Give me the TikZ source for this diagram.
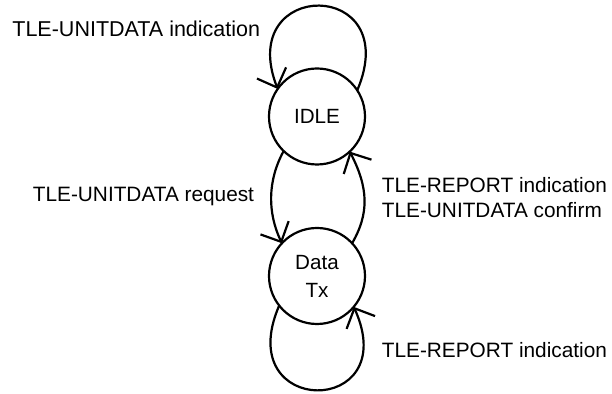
\documentclass[tikz,border=0pt]{standalone}
\usepackage{fontspec}
\setmainfont{Liberation Sans}
\usetikzlibrary{positioning, arrows.meta}

\begin{document}
\begin{tikzpicture}[
    x=0.5pt, y=-0.5pt,
    >={Straight Barb[length=7.8pt, width=15.6pt]},
    node distance=31.75pt,
    state/.style={circle, draw, line width=1.1pt, minimum size=48pt,
                  inner sep=0pt, outer sep=0pt, align=center,
                  font=\fontsize{10.3}{14}\selectfont},
    lbl/.style={inner sep=0pt, align=left,
                font=\fontsize{10.4}{12.5}\selectfont},
    arrow/.style={->, line width=1.1pt}
]
  \useasboundingbox (0,0) rectangle (612,394);

  \node[state] (idle) at (317,116.5) {IDLE};
  \node[state, below=of idle] (tx) {Data\\Tx};

  \draw[arrow] (idle.33) .. controls +(47.7,-112.4) and +(-42.7,-111) .. (idle.145);
  \draw[arrow] (idle.226) .. controls +(-16.2,29.7) and +(-14.5,-30.7) .. (tx.137);
  \draw[arrow] (tx.43) .. controls +(17.2,-29.7) and +(18.8,36.4) .. (idle.313);
  \draw[arrow] (tx.218) .. controls +(-48.7,112.7) and +(50,111) .. (tx.320);

  \node[lbl, font=\fontsize{10.75}{12.5}\selectfont, anchor=base west] (ind) at (12,36.3) {TLE-UNITDATA indication};
  \node[lbl, anchor=base west] (req) at (32.5,202) {TLE-UNITDATA request};
  \node[lbl, anchor=west] (conf) at (381.5,197.5) {TLE-REPORT indication\\TLE-UNITDATA confirm};
  \node[lbl, anchor=base west] (rep) at (381.5,358) {TLE-REPORT indication};
\end{tikzpicture}
\end{document}
